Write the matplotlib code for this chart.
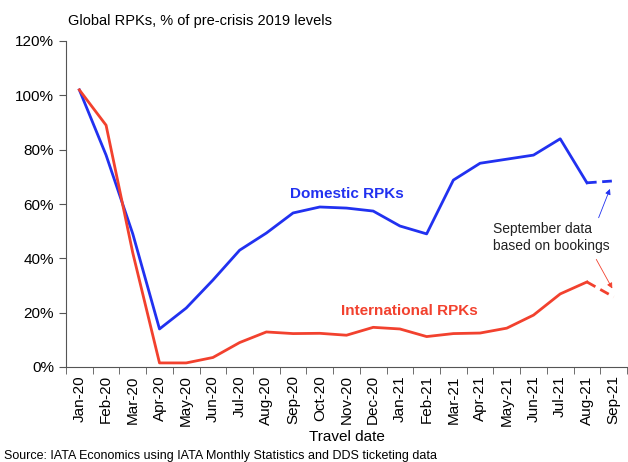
import matplotlib
matplotlib.use("Agg")
import matplotlib.pyplot as plt
import numpy as np

plt.rcParams["font.family"] = ["Liberation Sans", "DejaVu Sans"]

months = ["Jan-20", "Feb-20", "Mar-20", "Apr-20", "May-20", "Jun-20", "Jul-20",
          "Aug-20", "Sep-20", "Oct-20", "Nov-20", "Dec-20", "Jan-21", "Feb-21",
          "Mar-21", "Apr-21", "May-21", "Jun-21", "Jul-21", "Aug-21", "Sep-21"]
domestic = [102, 78, 49, 14, 21.7, 32, 43, 49.3, 56.7, 58.9, 58.5, 57.4, 51.9, 49,
            68.8, 75, 76.5, 78, 84, 67.8, 68.5]
international = [102, 89, 42, 1.5, 1.5, 3.5, 9, 12.9, 12.3, 12.4, 11.7, 14.6, 14, 11.2,
                 12.3, 12.5, 14.3, 19.1, 26.9, 31.3, 25.8]

BLUE = "#2131f0"
RED = "#f2412e"

x = np.arange(len(months))
fig = plt.figure(figsize=(6.28, 4.62), dpi=100)
ax = fig.add_axes([66 / 628, 1 - 367 / 462, 561 / 628, 326 / 462])

# solid up to Aug-21, dashed for the booking-based September
ax.plot(x[:-1], domestic[:-1], color=BLUE, lw=2)
ax.plot(x[-2:], domestic[-2:], color=BLUE, lw=2, ls=(0, (3.5, 2)))
ax.plot(x[:-1], international[:-1], color=RED, lw=2)
ax.plot(x[-2:], international[-2:], color=RED, lw=2, ls=(0, (3.5, 2)))

ax.set_xlim(-0.5, len(months) - 0.5)
ax.set_ylim(0, 120)
ax.set_yticks(range(0, 121, 20))
ax.set_yticklabels([f"{v}%" for v in range(0, 121, 20)], fontsize=11)
ax.set_xticks(x)
ax.set_xticklabels(months, rotation=90, fontsize=11)
ax.set_xticks(np.arange(-0.5, len(months), 1), minor=True)
ax.tick_params(axis="x", which="major", length=0, pad=6)
ax.tick_params(axis="x", which="minor", length=5, color="#555555")
ax.tick_params(axis="y", length=5, color="#555555")
for s in ["top", "right"]:
    ax.spines[s].set_visible(False)
for s in ["left", "bottom"]:
    ax.spines[s].set_color("#555555")

ax.text(10.0, 63.5, "Domestic RPKs", color=BLUE, fontsize=11, fontweight="bold",
        ha="center", va="center")
ax.text(9.8, 20.5, "International RPKs", color=RED, fontsize=11, fontweight="bold",
        ha="left", va="center")

ax.text(15.5, 47.7, "September data\nbased on bookings", fontsize=10, color="#222222",
        ha="left", va="center", linespacing=1.25)
ax.annotate("", xy=(19.9, 66.5), xytext=(19.4, 54),
            arrowprops=dict(arrowstyle="-|>", color=BLUE, lw=0.6, mutation_scale=8))
ax.annotate("", xy=(20.0, 28), xytext=(19.3, 40.5),
            arrowprops=dict(arrowstyle="-|>", color=RED, lw=0.6, mutation_scale=8))

fig.text(68 / 628, 1 - 21 / 462, "Global RPKs, % of pre-crisis 2019 levels",
         fontsize=10.5, ha="left", va="center")
ax.set_xlabel("Travel date", fontsize=11, labelpad=3)
fig.text(4 / 628, 1 - 456 / 462,
         "Source: IATA Economics using IATA Monthly Statistics and DDS ticketing data",
         fontsize=9, ha="left", va="center")

fig.savefig("out.png", dpi=100)
